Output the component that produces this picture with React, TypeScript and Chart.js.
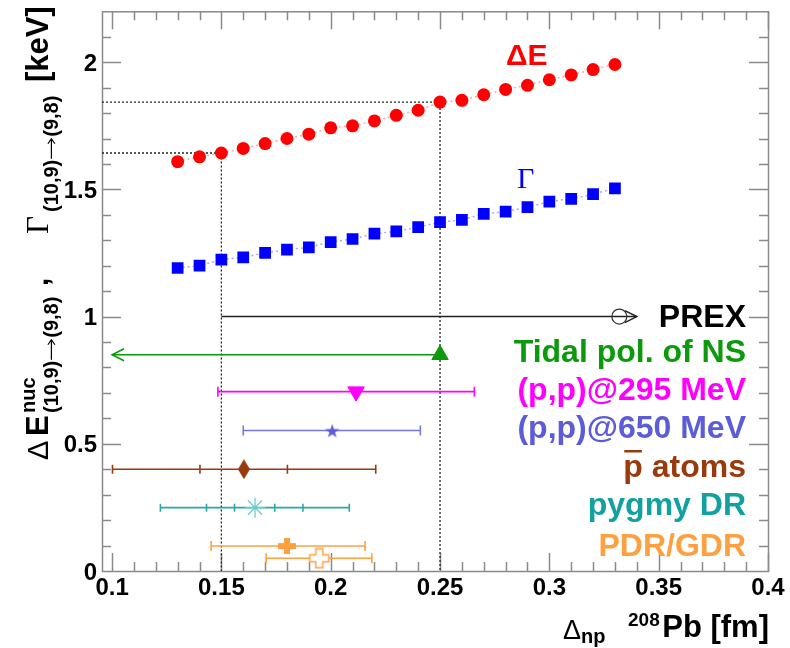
import React, { useEffect, useRef } from 'react';
import { Chart, registerables } from 'chart.js';

Chart.register(...registerables);

// ---------- axes ----------
const X_MIN = 0.0954;
const X_MAX = 0.4;
const Y_MIN = 0;
const Y_MAX = 2.2;
const X_TICK_VALUES = [0.1, 0.15, 0.2, 0.25, 0.3, 0.35, 0.4];
const X_TICK_LABELS = ['0.1', '0.15', '0.2', '0.25', '0.3', '0.35', '0.4'];
const Y_TICK_VALUES = [0, 0.5, 1, 1.5, 2];
const Y_TICK_LABELS = ['0', '0.5', '1', '1.5', '2'];

// ---------- calculated curves ----------
const DNP = [0.13, 0.14, 0.15, 0.16, 0.17, 0.18, 0.19, 0.2, 0.21, 0.22, 0.23, 0.24, 0.25, 0.26, 0.27, 0.28, 0.29, 0.3, 0.31, 0.32, 0.33];
const DELTA_E = [1.609, 1.628, 1.643, 1.661, 1.68, 1.7, 1.717, 1.742, 1.75, 1.769, 1.791, 1.811, 1.843, 1.85, 1.872, 1.893, 1.909, 1.931, 1.95, 1.971, 1.991];
const GAMMA = [1.191, 1.2, 1.224, 1.233, 1.25, 1.263, 1.272, 1.293, 1.305, 1.326, 1.335, 1.352, 1.371, 1.38, 1.404, 1.413, 1.43, 1.452, 1.463, 1.481, 1.504];

// dotted read-off guides
const GUIDE_DNP = [0.15, 0.25];
const GUIDE_DE = [1.643, 1.843];

// ---------- measurements (x, y) and error-bar cap positions ----------
const PREX_POINT = [0.332, 1.0];
const PREX_RANGE = [0.15, 0.34];
const TIDAL_POINT = [0.25, 0.85];
const TIDAL_RANGE = [0.1, 0.25];
const PP295_POINT = [0.2116, 0.705];
const PP295_BAR = [0.1484, 0.2657];
const PP650_POINT = [0.2007, 0.552];
const PP650_BAR = [0.16, 0.241];
const PBAR_POINT = [0.1603, 0.4];
const PBAR_BAR = [0.1002, 0.1402, 0.1802, 0.2206];
const PYGMY_POINT = [0.1654, 0.249];
const PYGMY_BAR = [0.1221, 0.1432, 0.156, 0.1744, 0.1873, 0.2085];
const PDR_POINT = [0.18, 0.098];
const PDR_BAR = [0.1453, 0.2157];
const GDR_POINT = [0.1948, 0.05];
const GDR_BAR = [0.1705, 0.2188];

const LEGEND_TEXT = ['PREX', 'Tidal pol. of NS', '(p,p)@295 MeV', '(p,p)@650 MeV', 'p atoms', 'pygmy DR', 'PDR/GDR'];

// ---------- styles ----------
const RED = '#ff0000';
const BLUE = '#0000ff';
const GREEN = '#0b9a0b';
const MAGENTA = '#ff00ff';
const SLATE = '#5c5cd8';
const BROWN = '#993a0c';
const TEAL = '#12a0a0';
const ORANGE = '#ffa040';
const FRAME = '#8a8a8a';
const LEGEND_COLORS = ['#000000', GREEN, MAGENTA, SLATE, BROWN, TEAL, ORANGE];
const LEGEND_BASELINES = [327, 362, 400, 438, 477, 515, 556];
const SANS = '"Liberation Sans", Arial, Helvetica, sans-serif';
const SERIF = '"Liberation Serif", "Times New Roman", serif';

function mk(w: number, h: number, draw: (g: CanvasRenderingContext2D) => void) {
  const c = document.createElement('canvas');
  c.width = w;
  c.height = h;
  const g = c.getContext('2d') as CanvasRenderingContext2D;
  draw(g);
  return c;
}

const pts = (xs: number[], y: number) => xs.map((x) => ({ x, y }));

// draws "(10,9)→(9,8)" with a long arrow, in the current (rotated) frame
function drawTransition(ctx: CanvasRenderingContext2D, x: number, y: number, size: number) {
  ctx.font = `bold ${size}px ${SANS}`;
  ctx.textAlign = 'left';
  ctx.fillText('(10,9)', x, y);
  let cx = x + ctx.measureText('(10,9)').width + 1;
  const len = size * 1.0;
  const ay = y - size * 0.33;
  ctx.save();
  ctx.lineWidth = 1.2;
  ctx.beginPath();
  ctx.moveTo(cx, ay);
  ctx.lineTo(cx + len, ay);
  ctx.moveTo(cx + len - 5, ay - 3.5);
  ctx.lineTo(cx + len, ay);
  ctx.lineTo(cx + len - 5, ay + 3.5);
  ctx.stroke();
  ctx.restore();
  cx += len + 2;
  ctx.fillText('(9,8)', cx, y);
}

const rootPlugin = {
  id: 'rootFrame',
  beforeDatasetsDraw(chart: any) {
    const { ctx, chartArea: a, scales } = chart;
    const xs = scales.x;
    const ys = scales.y;
    ctx.save();
    ctx.strokeStyle = FRAME;
    ctx.lineWidth = 1.5;
    ctx.beginPath();
    for (let i = 10; i <= 40; i++) {
      const v = i / 100;
      const L = i % 5 === 0 ? 18 : 9;
      const px = Math.round(xs.getPixelForValue(v)) + 0.5;
      ctx.moveTo(px, a.bottom);
      ctx.lineTo(px, a.bottom - L);
      ctx.moveTo(px, a.top);
      ctx.lineTo(px, a.top + L);
    }
    for (let i = 1; i <= 21; i++) {
      const v = i / 10;
      const L = i % 5 === 0 ? 19 : 9;
      const py = Math.round(ys.getPixelForValue(v)) + 0.5;
      ctx.moveTo(a.left, py);
      ctx.lineTo(a.left + L, py);
      ctx.moveTo(a.right, py);
      ctx.lineTo(a.right - L, py);
    }
    ctx.stroke();
    ctx.strokeRect(a.left + 0.5, a.top + 0.5, a.right - a.left, a.bottom - a.top);

    ctx.fillStyle = '#000';
    ctx.font = `bold 24px ${SANS}`;
    ctx.textBaseline = 'alphabetic';
    ctx.textAlign = 'center';
    X_TICK_VALUES.forEach((v, i) => {
      ctx.fillText(X_TICK_LABELS[i], xs.getPixelForValue(v), a.bottom + 24);
    });
    ctx.textAlign = 'right';
    Y_TICK_VALUES.forEach((v, i) => {
      ctx.fillText(Y_TICK_LABELS[i], a.left - 5, ys.getPixelForValue(v) + 8.5);
    });
    ctx.restore();
  },
  afterDatasetsDraw(chart: any) {
    const { ctx, scales } = chart;
    const xs = scales.x;
    const ys = scales.y;
    ctx.save();
    ctx.lineWidth = 1.5;
    let tx = xs.getPixelForValue(PREX_RANGE[1]);
    let ty = ys.getPixelForValue(PREX_POINT[1]);
    ctx.strokeStyle = '#222';
    ctx.beginPath();
    ctx.moveTo(tx - 12, ty - 6);
    ctx.lineTo(tx, ty);
    ctx.lineTo(tx - 12, ty + 6);
    ctx.stroke();
    tx = xs.getPixelForValue(TIDAL_RANGE[0]);
    ty = ys.getPixelForValue(TIDAL_POINT[1]);
    ctx.strokeStyle = GREEN;
    ctx.beginPath();
    ctx.moveTo(tx + 12, ty - 6);
    ctx.lineTo(tx, ty);
    ctx.lineTo(tx + 12, ty + 6);
    ctx.stroke();
    ctx.restore();
  },
  afterDraw(chart: any) {
    const { ctx } = chart;
    ctx.save();
    ctx.textBaseline = 'alphabetic';
    ctx.textAlign = 'left';

    // curve labels
    ctx.fillStyle = RED;
    ctx.font = `bold 30px ${SANS}`;
    ctx.fillText('\u0394E', 506, 65);
    ctx.fillStyle = BLUE;
    ctx.font = `30px ${SERIF}`;
    ctx.fillText('\u0393', 517, 188);

    // legend texts
    ctx.textAlign = 'right';
    ctx.font = `bold 32px ${SANS}`;
    LEGEND_TEXT.forEach((t, i) => {
      ctx.fillStyle = LEGEND_COLORS[i];
      ctx.fillText(t, 746, LEGEND_BASELINES[i]);
      if (i === 4) {
        const w = ctx.measureText(t).width;
        const pw = ctx.measureText('p').width;
        const x0 = 746 - w;
        ctx.fillRect(x0 + 1, LEGEND_BASELINES[i] - 27, pw - 2, 2.5);
      }
    });

    // x axis title
    ctx.textAlign = 'left';
    ctx.fillStyle = '#000';
    ctx.font = `27px ${SANS}`;
    ctx.fillText('\u0394', 563, 639);
    ctx.font = `bold 20px ${SANS}`;
    ctx.fillText('np', 581, 643);
    ctx.font = `bold 19px ${SANS}`;
    ctx.fillText('208', 628, 626);
    ctx.textAlign = 'right';
    ctx.font = `bold 31px ${SANS}`;
    ctx.fillText('Pb [fm]', 769, 637);

    // y axis title (rotated)
    ctx.translate(48, 460);
    ctx.rotate(-Math.PI / 2);
    ctx.strokeStyle = '#000';
    ctx.textAlign = 'left';
    ctx.font = `29px ${SANS}`;
    ctx.fillText('\u0394', 0, 0);
    ctx.font = `bold 31px ${SANS}`;
    ctx.fillText('E', 24, 0);
    ctx.font = `bold 20px ${SANS}`;
    ctx.fillText('nuc', 47, -13);
    drawTransition(ctx, 47, 10, 20);
    ctx.font = `bold 30px ${SANS}`;
    ctx.fillText(',', 174, 0);
    ctx.font = `31px ${SERIF}`;
    ctx.fillText('\u0393', 226, 0);
    drawTransition(ctx, 248, 10, 20);
    ctx.font = `bold 31px ${SANS}`;
    ctx.fillText('[keV]', 378, 0);
    ctx.restore();
  },
};

export default function App() {
  const ref = useRef<HTMLCanvasElement | null>(null);

  useEffect(() => {
    if (!ref.current) return;

    const star5 = mk(16, 16, (g) => {
      g.fillStyle = SLATE;
      g.beginPath();
      for (let i = 0; i < 10; i++) {
        const r = i % 2 ? 2.9 : 7.5;
        const ang = -Math.PI / 2 + (i * Math.PI) / 5;
        g.lineTo(8 + r * Math.cos(ang), 8.8 + r * Math.sin(ang));
      }
      g.closePath();
      g.fill();
    });
    const diamond = mk(12, 20, (g) => {
      g.fillStyle = BROWN;
      g.beginPath();
      g.moveTo(6, 0);
      g.lineTo(12, 10);
      g.lineTo(6, 20);
      g.lineTo(0, 10);
      g.closePath();
      g.fill();
    });
    const fcross = mk(18, 16, (g) => {
      g.fillStyle = ORANGE;
      g.fillRect(6, 0, 6, 16);
      g.fillRect(0, 5, 18, 6);
    });
    const ocross = mk(22, 22, (g) => {
      const c = 11, h = 3.5, e = 9.5;
      g.beginPath();
      g.moveTo(c - h, c - e);
      g.lineTo(c + h, c - e);
      g.lineTo(c + h, c - h);
      g.lineTo(c + e, c - h);
      g.lineTo(c + e, c + h);
      g.lineTo(c + h, c + h);
      g.lineTo(c + h, c + e);
      g.lineTo(c - h, c + e);
      g.lineTo(c - h, c + h);
      g.lineTo(c - e, c + h);
      g.lineTo(c - e, c - h);
      g.lineTo(c - h, c - h);
      g.closePath();
      g.fillStyle = '#fff';
      g.fill();
      g.strokeStyle = ORANGE;
      g.lineWidth = 1.5;
      g.stroke();
    });

    const marker = (p: number[], style: any, color: string, radius: number, extra: any = {}) => ({
      data: [{ x: p[0], y: p[1] }],
      showLine: false,
      pointStyle: style,
      pointRadius: radius,
      pointBackgroundColor: color,
      pointBorderColor: color,
      pointBorderWidth: 1,
      order: 0,
      ...extra,
    });
    const bar = (xs: number[], y: number, color: string, capR: number, width = 1.6) => ({
      data: pts(xs, y),
      showLine: true,
      borderColor: color,
      borderWidth: width,
      pointStyle: 'line',
      rotation: 90,
      pointRadius: capR,
      pointBorderColor: color,
      pointBorderWidth: width,
      order: 5,
    });

    const datasets: any[] = [
      {
        data: DNP.map((x, i) => ({ x, y: DELTA_E[i] })),
        showLine: true,
        borderColor: 'rgba(255,60,60,0.45)',
        borderDash: [2, 3],
        borderWidth: 1.5,
        pointStyle: 'circle',
        pointRadius: 6.5,
        pointBackgroundColor: RED,
        pointBorderColor: RED,
        pointBorderWidth: 0,
        order: 1,
      },
      {
        data: DNP.map((x, i) => ({ x, y: GAMMA[i] })),
        showLine: true,
        borderColor: 'rgba(60,60,255,0.45)',
        borderDash: [2, 3],
        borderWidth: 1.5,
        pointStyle: 'rect',
        pointRadius: 8.3,
        pointBackgroundColor: BLUE,
        pointBorderColor: BLUE,
        pointBorderWidth: 0,
        order: 1,
      },
      ...GUIDE_DNP.map((gx, i) => ({
        data: [
          { x: X_MIN, y: GUIDE_DE[i] },
          { x: gx, y: GUIDE_DE[i] },
          { x: gx, y: Y_MIN },
        ],
        showLine: true,
        borderColor: '#222',
        borderDash: [2, 2],
        borderWidth: 1.3,
        pointRadius: 0,
        order: 10,
      })),
      {
        data: pts(PREX_RANGE, PREX_POINT[1]),
        showLine: true,
        borderColor: '#222',
        borderWidth: 1.5,
        pointRadius: 0,
        order: 5,
      },
      marker(PREX_POINT, 'circle', '#333', 7.5, { pointBackgroundColor: 'rgba(0,0,0,0)', pointBorderWidth: 1.2 }),
      {
        data: pts(TIDAL_RANGE, TIDAL_POINT[1]),
        showLine: true,
        borderColor: GREEN,
        borderWidth: 1.5,
        pointRadius: 0,
        order: 5,
      },
      marker(TIDAL_POINT, 'triangle', GREEN, 9.5),
      bar(PP295_BAR, PP295_POINT[1], MAGENTA, 5),
      marker(PP295_POINT, 'triangle', MAGENTA, 9.5, { rotation: 180 }),
      bar(PP650_BAR, PP650_POINT[1], '#7777e0', 5),
      marker(PP650_POINT, star5, SLATE, 8),
      bar(PBAR_BAR, PBAR_POINT[1], BROWN, 4.5),
      marker(PBAR_POINT, diamond, BROWN, 8),
      bar(PYGMY_BAR, PYGMY_POINT[1], '#2aa8a8', 4),
      marker(PYGMY_POINT, 'star', '#6fcaca', 10, { pointBorderWidth: 1.3 }),
      bar(PDR_BAR, PDR_POINT[1], ORANGE, 5),
      marker(PDR_POINT, fcross, ORANGE, 8),
      bar(GDR_BAR, GDR_POINT[1], ORANGE, 5),
      marker(GDR_POINT, ocross, ORANGE, 8),
    ];

    const chart = new Chart(ref.current, {
      type: 'scatter',
      data: { datasets },
      plugins: [rootPlugin],
      options: {
        animation: false,
        responsive: false,
        devicePixelRatio: 1,
        events: [],
        layout: { padding: { left: 102, right: 22, top: 9, bottom: 77 } },
        plugins: { legend: { display: false }, tooltip: { enabled: false } },
        elements: { line: { tension: 0 } },
        scales: {
          x: { type: 'linear', display: false, min: X_MIN, max: X_MAX },
          y: { type: 'linear', display: false, min: Y_MIN, max: Y_MAX },
        },
      } as any,
    });
    return () => chart.destroy();
  }, []);

  return (
    <div style={{ position: 'absolute', left: 0, top: 0, width: 790, height: 648, background: '#fff' }}>
      <canvas ref={ref} width={790} height={648} style={{ width: 790, height: 648, display: 'block' }} />
    </div>
  );
}
